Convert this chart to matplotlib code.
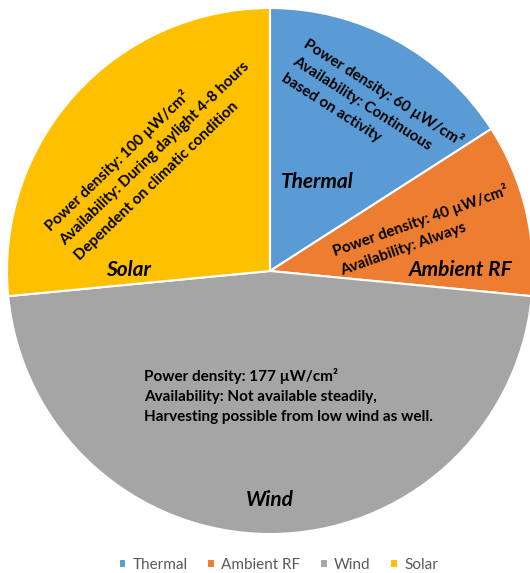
import numpy as np
import matplotlib
matplotlib.use('Agg')
import matplotlib.pyplot as plt

sources = ['Thermal', 'Ambient RF', 'Wind', 'Solar']
power_density = [60, 40, 177, 100]  # uW/cm2
colors = ['#5B9BD5', '#ED7D31', '#A5A5A5', '#FFC000']
notes = [
    'Power density: 60 µW/cm²\nAvailability: Continuous\nbased on activity',
    'Power density: 40 µW/cm²\nAvailability: Always',
    'Power density: 177 µW/cm²\nAvailability: Not available steadily,\nHarvesting possible from low wind as well.',
    'Power density: 100 µW/cm²\nAvailability: During daylight 4-8 hours\nDependent on climatic condition',
]

plt.rcParams['font.family'] = ['Lato', 'DejaVu Sans']

W, H = 530, 573
fig = plt.figure(figsize=(W / 100, H / 100), dpi=100)
cx, cy, r = 270, 271, 263
ax = fig.add_axes([(cx - r) / W, (H - cy - r) / H, 2 * r / W, 2 * r / H])
ax.axis('off')

wedges, _ = ax.pie(power_density, colors=colors, startangle=90, counterclock=False,
                   radius=1, wedgeprops=dict(edgecolor='white', linewidth=1.5))
ax.set_xlim(-1, 1)
ax.set_ylim(-1, 1)


def px(x, y):
    return (x - cx) / r, (cy - y) / r


# category names
name_pos = [(317, 182), (461, 270), (270, 500), (128, 270)]
for name, (x, y) in zip(sources, name_pos):
    ax.text(*px(x, y), name, ha='center', va='center', fontsize=15,
            fontweight='bold', fontstyle='italic', color='black')

# description notes: baseline start of first line (pixels) and rotation
note_pos = [(305, 42, -32.5), (333, 251, 19.5), (144, 376, 0), (48, 228, 44)]
line_h = 19.5
for txt, (x, y, rot) in zip(notes, note_pos):
    # va='baseline' anchors the last line, so move anchor down the text
    n = txt.count('\n')
    a = np.radians(rot)
    x2 = x + n * line_h * np.sin(a)
    y2 = y + n * line_h * np.cos(a)
    ax.text(*px(x2, y2), txt, ha='left', va='baseline', rotation=rot,
            rotation_mode='anchor', fontsize=11, fontweight='bold',
            color='black', linespacing=1.57)

leg = fig.legend(wedges, sources, loc='center', bbox_to_anchor=(0.525, 1 - 565 / H),
                 ncol=4, frameon=False, fontsize=11, handlelength=0.5,
                 handleheight=0.5, handletextpad=0.4, columnspacing=1.3)
for t in leg.get_texts():
    t.set_color('#595959')

fig.savefig('out.png', dpi=100)
